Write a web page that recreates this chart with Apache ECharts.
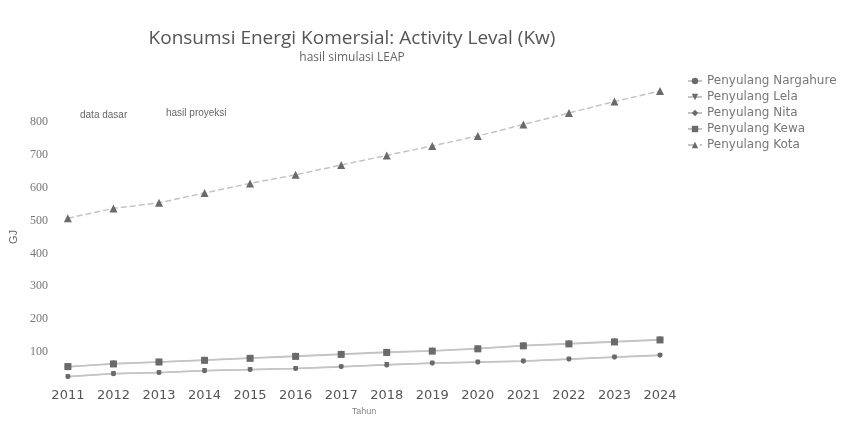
<!DOCTYPE html>
<html>
<head>
<meta charset="utf-8">
<script src="https://cdn.jsdelivr.net/npm/echarts@6/dist/echarts.min.js"></script>
<style>
html,body{margin:0;padding:0;background:#fff;}
#chart{width:852px;height:421px;}
</style>
</head>
<body>
<div id="chart"></div>
<script>
// tahun (x axis)
var years = ['2011','2012','2013','2014','2015','2016','2017','2018','2019','2020','2021','2022','2023','2024'];

// nilai per penyulang
var nargahure = [26, 34, 38, 43, 47, 50, 56, 61, 67, 70, 73, 79, 85, 91];
var lela      = [25, 35, 37, 44, 46, 50, 55, 62, 66, 69, 72, 78, 84, 90];
var nita      = [55, 65, 70, 76, 82, 88, 94, 100, 104, 111, 120, 126, 132, 138];
var kewa      = [56, 64, 70, 75, 81, 87, 93, 99, 103, 110, 119, 125, 131, 137];
var kota      = [507, 537, 554, 584, 613, 639, 669, 698, 727, 757, 792, 827, 862, 894];

var names = ['Penyulang Nargahure','Penyulang Lela','Penyulang Nita','Penyulang Kewa','Penyulang Kota'];

function mkSeries(name, data, symbol, size, dashed){
    return {
        name: name,
        type: 'line',
        data: data,
        symbol: symbol,
        symbolSize: size,
        itemStyle: {color: '#6a6a6a'},
        lineStyle: {color: '#c4c4c4', width: 1.5, type: dashed ? 'dashed' : 'solid'}
    };
}

var chart = echarts.init(document.getElementById('chart'));
var option = {
    backgroundColor: '#fff',
    animation: false,
    title: {
        text: 'Konsumsi Energi Komersial: Activity Leval (Kw)',
        subtext: 'hasil simulasi LEAP',
        left: 347,
        textAlign: 'center',
        top: 24,
        itemGap: 4,
        textStyle: {fontFamily: 'Open Sans', fontSize: 19, fontWeight: 'normal', color: '#555'},
        subtextStyle: {fontFamily: 'Open Sans', fontSize: 12, color: '#666'}
    },
    legend: {
        orient: 'vertical',
        left: 682,
        top: 68,
        itemGap: 0,
        itemWidth: 14,
        itemHeight: 8,
        data: names,
        textStyle: {fontFamily: 'DejaVu Sans', fontSize: 12, color: '#777', lineHeight: 16}
    },
    grid: {left: 63, right: 192, top: 89, bottom: 25},
    xAxis: {
        type: 'category',
        boundaryGap: false,
        data: years,
        name: 'Tahun',
        nameLocation: 'middle',
        nameGap: 22,
        nameTextStyle: {fontSize: 9, color: '#888'},
        axisLine: {show: false},
        axisTick: {show: false},
        axisLabel: {interval: 0, margin: 4, fontFamily: 'DejaVu Sans', fontSize: 13, color: '#555'}
    },
    yAxis: {
        type: 'value',
        min: 0,
        max: 900,
        interval: 100,
        name: 'GJ',
        nameLocation: 'middle',
        nameGap: 46,
        nameRotate: 90,
        nameTextStyle: {fontSize: 11, color: '#666'},
        splitLine: {show: false},
        axisLine: {show: false},
        axisTick: {show: false},
        axisLabel: {
            margin: 20,
            fontFamily: 'Liberation Serif',
            fontSize: 12,
            color: '#777',
            formatter: function(v){ return (v === 0 || v === 900) ? '' : v; }
        }
    },
    graphic: [
        {type: 'text', left: 80, top: 110, style: {text: 'data dasar', fontSize: 10, fill: '#666'}},
        {type: 'text', left: 166, top: 108, style: {text: 'hasil proyeksi', fontSize: 10, fill: '#666'}}
    ],
    series: [
        mkSeries(names[0], nargahure, 'circle', 5, false),
        mkSeries(names[1], lela, 'triangle', 5, false),
        mkSeries(names[2], nita, 'diamond', 7, false),
        mkSeries(names[3], kewa, 'rect', 7, false),
        mkSeries(names[4], kota, 'triangle', 8, true)
    ]
};
// segitiga terbalik untuk Lela
option.series[1].symbolRotate = 180;
chart.setOption(option);
</script>
</body>
</html>
